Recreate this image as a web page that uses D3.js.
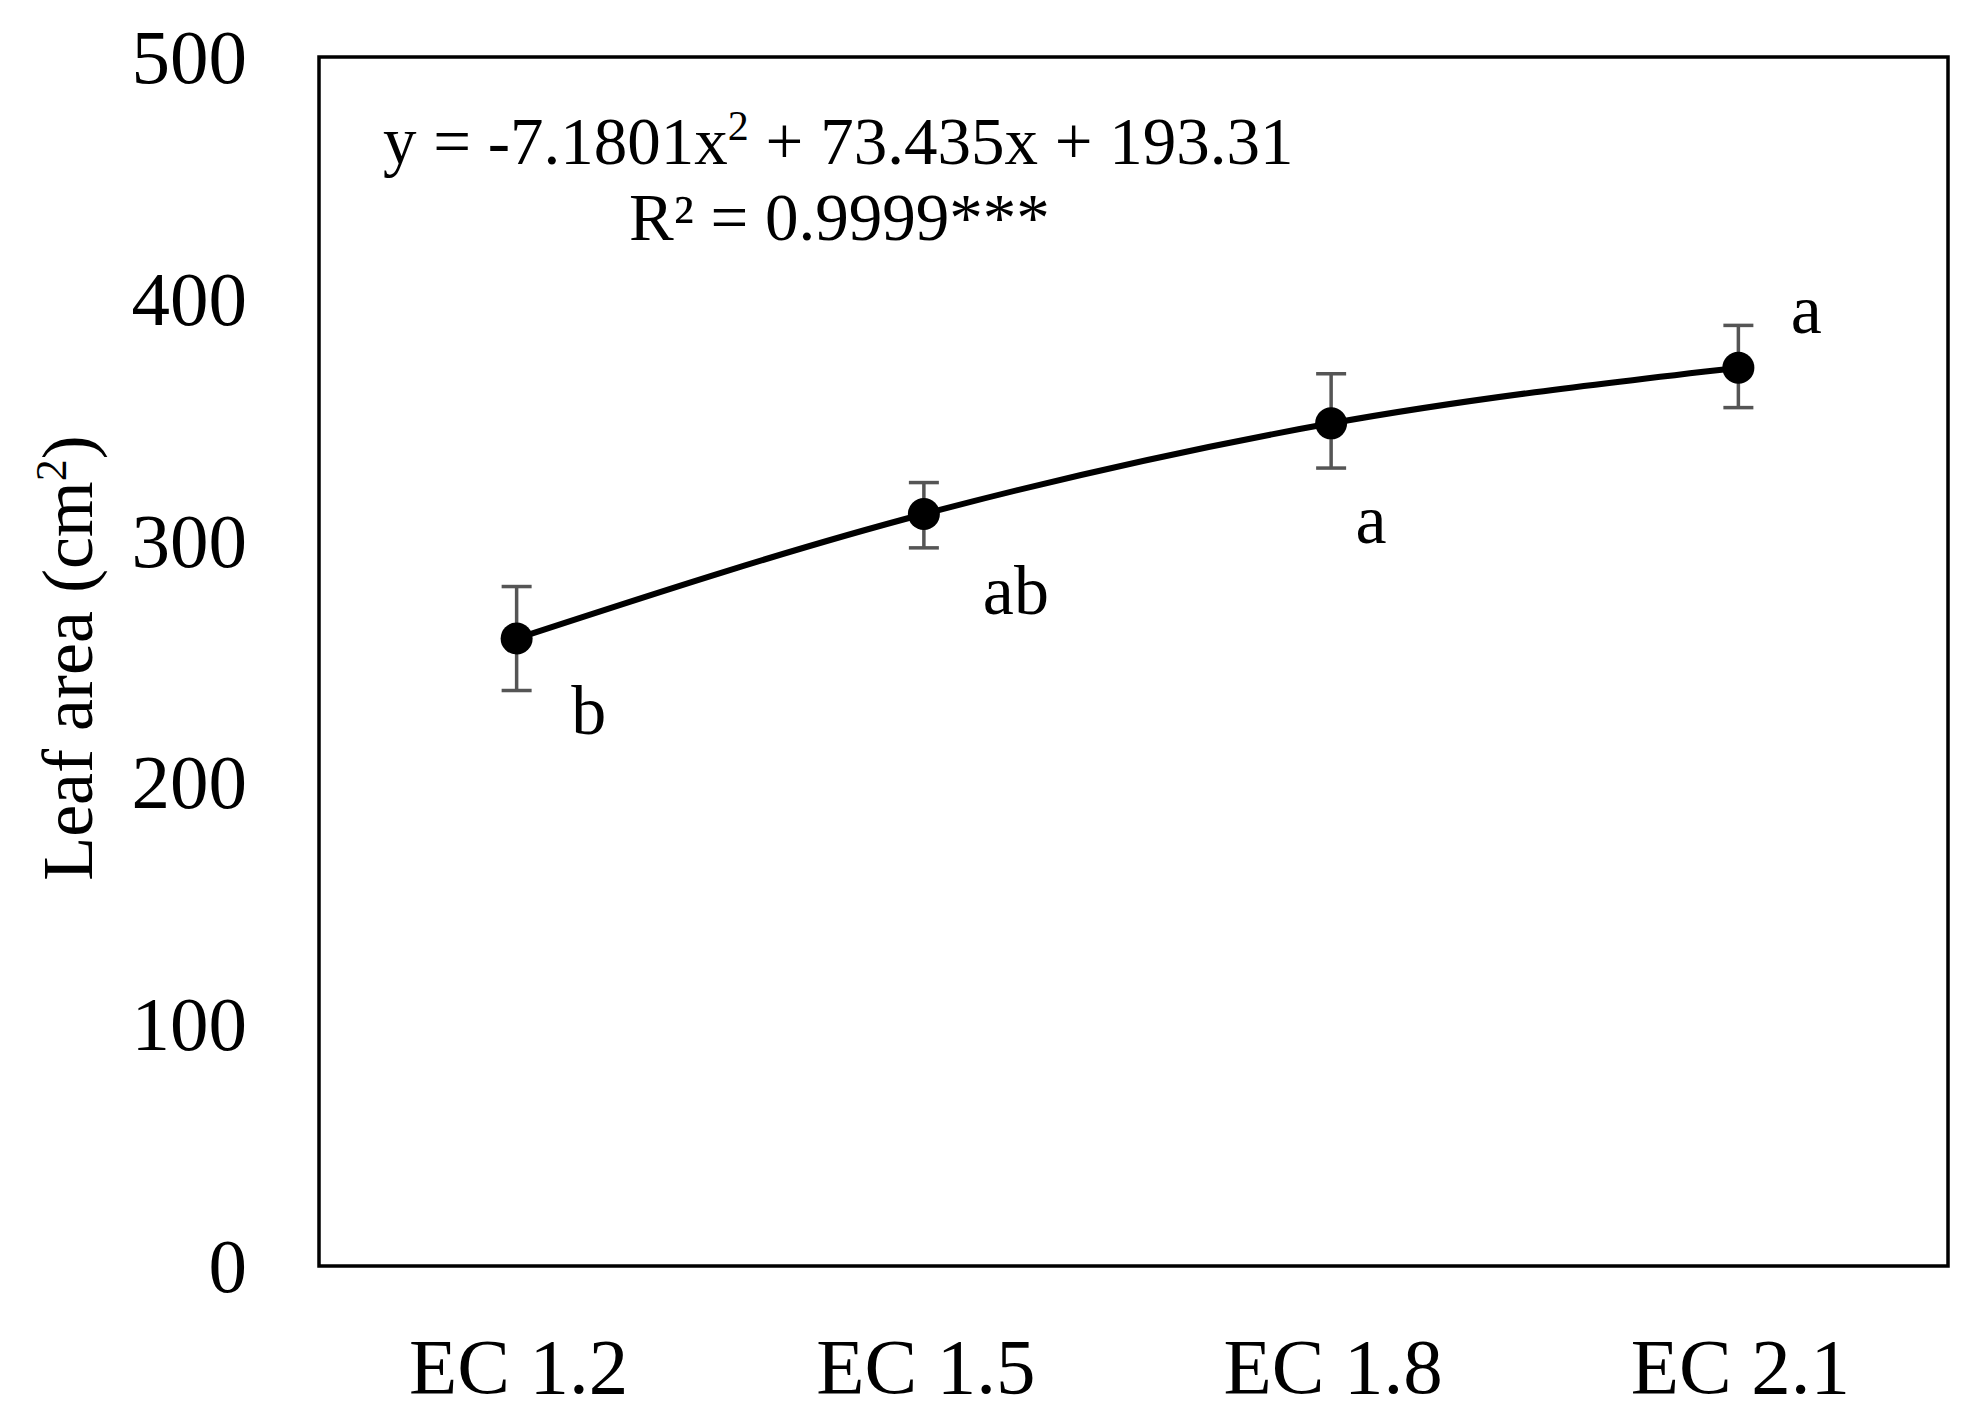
<!DOCTYPE html><html><head><meta charset="utf-8"><script src="https://cdn.jsdelivr.net/npm/d3@7"></script>
<style>body{margin:0;background:#fff}text{font-family:"Liberation Serif","Times New Roman",serif;fill:#000}</style></head><body>
<svg id="c" width="1973" height="1427"></svg>
<script>
const categories=["EC 1.2","EC 1.5","EC 1.8","EC 2.1"];
const values=[259.5,311,348.5,371.5];
const errLow=[238,297,330,355];
const errHigh=[281,324,369,389];
const letters=["b","ab","a","a"];
const yTicks=[0,100,200,300,400,500];
const L=319,R=1948,T=57,B=1266;
const svg=d3.select("#c");
const x=d3.scalePoint().domain(categories).range([L-6,R-6]).padding(0.5);
const y=d3.scaleLinear().domain([0,500]).range([B,T]);
svg.append("rect").attr("x",L).attr("y",T).attr("width",R-L).attr("height",B-T).attr("fill","none").attr("stroke","#000").attr("stroke-width",3.5);
svg.selectAll(".yt").data(yTicks).enter().append("text").attr("x",247).attr("y",d=>y(d)+26).attr("text-anchor","end").attr("font-size",77).text(d=>d);
svg.selectAll(".xt").data(categories).enter().append("text").attr("x",d=>x(d)+2).attr("y",1393).attr("text-anchor","middle").attr("font-size",79).text(d=>d);
const yl=svg.append("text").attr("transform","translate(92,658) rotate(-90)").attr("text-anchor","middle").attr("font-size",72);
yl.append("tspan").text("Leaf area (cm");yl.append("tspan").attr("font-size",44).attr("dy",-26).text("2");yl.append("tspan").attr("dy",26).text(")");
const eq=svg.append("text").attr("x",383).attr("y",164).attr("font-size",67);
eq.append("tspan").text("y = -7.1801x");eq.append("tspan").attr("font-size",42).attr("dy",-24).text("2");eq.append("tspan").attr("dy",24).text(" + 73.435x + 193.31");
svg.append("text").attr("x",629).attr("y",240).attr("font-size",67).text("R² = 0.9999***");
const pts=categories.map((c,i)=>[x(c),y(values[i])]);
svg.append("path").attr("d",d3.line().curve(d3.curveMonotoneX)(pts)).attr("fill","none").attr("stroke","#000").attr("stroke-width",6);
categories.forEach((c,i)=>{
 const g=svg.append("g").attr("stroke","#555").attr("stroke-width",3.5);
 g.append("line").attr("x1",x(c)).attr("x2",x(c)).attr("y1",y(errLow[i])).attr("y2",y(errHigh[i]));
 [errLow[i],errHigh[i]].forEach(v=>g.append("line").attr("x1",x(c)-15).attr("x2",x(c)+15).attr("y1",y(v)).attr("y2",y(v)));
});
svg.selectAll(".pt").data(pts).enter().append("circle").attr("cx",d=>d[0]).attr("cy",d=>d[1]).attr("r",16).attr("fill","#000");
letters.forEach((l,i)=>svg.append("text").attr("x",x(categories[i])+[72,92,40,68][i]).attr("y",y(values[i])+[95,100,120,-35][i]).attr("text-anchor","middle").attr("font-size",70).text(l));
</script></body></html>
